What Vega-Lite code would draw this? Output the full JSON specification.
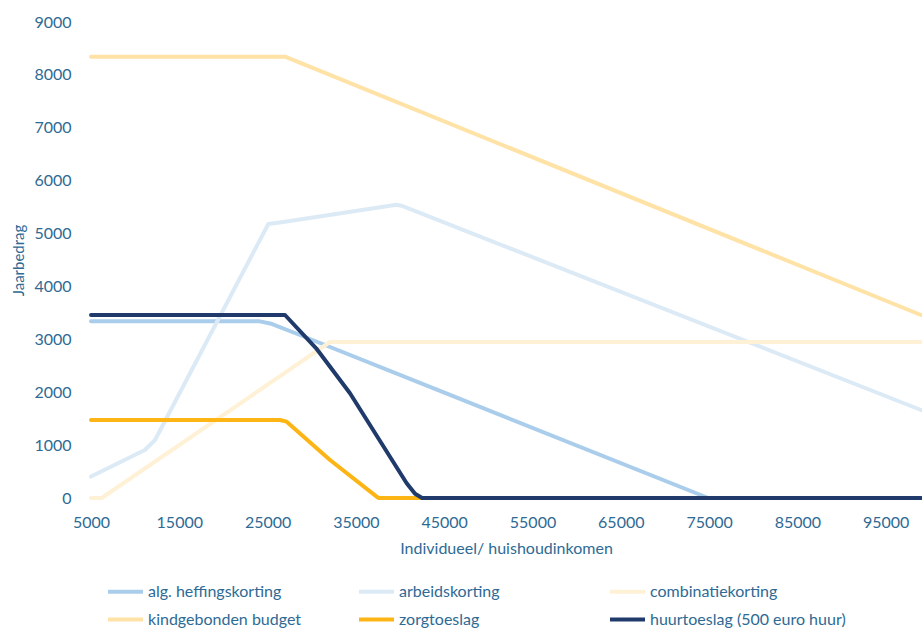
{
  "$schema": "https://vega.github.io/schema/vega-lite/v6.json",
  "width": 830,
  "height": 476,
  "autosize": {"type": "none"},
  "padding": {"left": 91, "top": 22, "right": 1, "bottom": 134},
  "config": {"view": {"stroke": null}, "font": "Lato"},
  "data": {
    "values": [
      {"s": "alg. heffingskorting", "x": 5000, "y": 3340},
      {"s": "alg. heffingskorting", "x": 24100, "y": 3340},
      {"s": "alg. heffingskorting", "x": 25300, "y": 3300},
      {"s": "alg. heffingskorting", "x": 28670, "y": 3082},
      {"s": "alg. heffingskorting", "x": 45660, "y": 1948},
      {"s": "alg. heffingskorting", "x": 74900, "y": 0},
      {"s": "alg. heffingskorting", "x": 99000, "y": 0},
      {"s": "arbeidskorting", "x": 5000, "y": 405},
      {"s": "arbeidskorting", "x": 11100, "y": 908},
      {"s": "arbeidskorting", "x": 12250, "y": 1097},
      {"s": "arbeidskorting", "x": 25080, "y": 5181},
      {"s": "arbeidskorting", "x": 26970, "y": 5225},
      {"s": "arbeidskorting", "x": 39600, "y": 5545},
      {"s": "arbeidskorting", "x": 40300, "y": 5520},
      {"s": "arbeidskorting", "x": 99000, "y": 1664},
      {"s": "combinatiekorting", "x": 5000, "y": 0},
      {"s": "combinatiekorting", "x": 6210, "y": 0},
      {"s": "combinatiekorting", "x": 32070, "y": 2950},
      {"s": "combinatiekorting", "x": 99000, "y": 2950},
      {"s": "kindgebonden budget", "x": 5000, "y": 8345},
      {"s": "kindgebonden budget", "x": 26970, "y": 8345},
      {"s": "kindgebonden budget", "x": 99000, "y": 3460},
      {"s": "zorgtoeslag", "x": 5000, "y": 1475},
      {"s": "zorgtoeslag", "x": 26400, "y": 1475},
      {"s": "zorgtoeslag", "x": 27160, "y": 1443},
      {"s": "zorgtoeslag", "x": 32070, "y": 719},
      {"s": "zorgtoeslag", "x": 37350, "y": 25},
      {"s": "zorgtoeslag", "x": 37600, "y": 0},
      {"s": "zorgtoeslag", "x": 99000, "y": 0},
      {"s": "huurtoeslag (500 euro huur)", "x": 5000, "y": 3460},
      {"s": "huurtoeslag (500 euro huur)", "x": 26970, "y": 3460},
      {"s": "huurtoeslag (500 euro huur)", "x": 30500, "y": 2830},
      {"s": "huurtoeslag (500 euro huur)", "x": 34330, "y": 1980},
      {"s": "huurtoeslag (500 euro huur)", "x": 40750, "y": 278},
      {"s": "huurtoeslag (500 euro huur)", "x": 41700, "y": 80},
      {"s": "huurtoeslag (500 euro huur)", "x": 42500, "y": 0},
      {"s": "huurtoeslag (500 euro huur)", "x": 99000, "y": 0}
    ]
  },
  "mark": {"type": "line", "strokeWidth": 4, "strokeCap": "round", "strokeJoin": "round"},
  "encoding": {
    "x": {
      "field": "x",
      "type": "quantitative",
      "scale": {"domain": [5000, 99000], "nice": false, "zero": false},
      "axis": {
        "values": [5000, 15000, 25000, 35000, 45000, 55000, 65000, 75000, 85000, 95000],
        "format": "d",
        "title": "Individueel/ huishoudinkomen",
        "grid": false,
        "domain": false,
        "ticks": false,
        "labelPadding": 16,
        "labelFlush": false,
        "labelFontSize": 16,
        "labelColor": "#2E6A94",
        "titleFontSize": 16,
        "titleFontWeight": "normal",
        "titleColor": "#2E6A94",
        "titlePadding": 10
      }
    },
    "y": {
      "field": "y",
      "type": "quantitative",
      "scale": {"domain": [0, 9000], "nice": false},
      "axis": {
        "values": [0, 1000, 2000, 3000, 4000, 5000, 6000, 7000, 8000, 9000],
        "format": "d",
        "title": "Jaarbedrag",
        "grid": false,
        "domain": false,
        "ticks": false,
        "labelPadding": 20,
        "labelFontSize": 16,
        "labelColor": "#2E6A94",
        "titleFontSize": 15,
        "titleFontWeight": "normal",
        "titleColor": "#2E6A94",
        "titlePadding": 7
      }
    },
    "color": {
      "field": "s",
      "type": "nominal",
      "sort": null,
      "scale": {
        "domain": ["alg. heffingskorting", "arbeidskorting", "combinatiekorting", "kindgebonden budget", "zorgtoeslag", "huurtoeslag (500 euro huur)"],
        "range": ["#A9CDEB", "#DCEAF6", "#FFF1D6", "#FFE2A6", "#FDB515", "#203B6B"]
      },
      "legend": {
        "title": null,
        "orient": "none",
        "direction": "horizontal",
        "legendX": 15,
        "legendY": 550,
        "columns": 3,
        "gridAlign": "all",
        "columnPadding": 7,
        "rowPadding": -1,
        "symbolType": "stroke",
        "symbolSize": 1225,
        "symbolStrokeWidth": 4,
        "labelFontSize": 16,
        "labelColor": "#2E6A94",
        "labelOffset": 3,
        "labelLimit": 300
      }
    }
  }
}
